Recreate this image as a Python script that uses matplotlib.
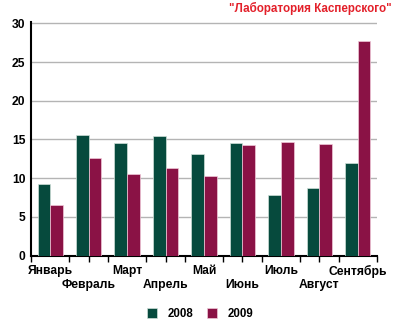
import matplotlib
matplotlib.use("Agg")
import matplotlib.pyplot as plt
import numpy as np

months = ["Январь", "Февраль", "Март", "Апрель", "Май", "Июнь", "Июль", "Август", "Сентябрь"]
v2008 = [9.3, 15.6, 14.6, 15.5, 13.1, 14.5, 7.8, 8.7, 11.9]
v2009 = [6.5, 12.6, 10.5, 11.3, 10.3, 14.3, 14.7, 14.4, 27.7]
yticks = [0, 5, 10, 15, 20, 25, 30]
title = '"Лаборатория Касперского"'

plt.rcParams['font.family'] = ['Liberation Sans', 'DejaVu Sans']

fig = plt.figure(figsize=(4.0, 3.3), dpi=100)
ax = fig.add_axes([31/400, 1-255.5/330, (377-31)/400, (255.5-22.3)/330])

x = np.arange(len(months))
w = 0.33
green = '#064a3d'
red = '#8a1245'
ax.bar(x - w, v2008, w, align='edge', color=green, edgecolor='#cfe0d8', linewidth=0.5, label='2008', zorder=3)
ax.bar(x, v2009, w, align='edge', color=red, edgecolor='#f0c8d8', linewidth=0.5, label='2009', zorder=3)

ax.set_xlim(-0.5, len(months) - 0.5)
ax.set_ylim(0, 30.15)
ax.set_yticks(yticks)
ax.set_yticklabels([str(t) for t in yticks], fontsize=8.7, fontweight='bold')
ax.tick_params(axis='y', length=0, pad=4)
ax.yaxis.grid(True, color='#b4b4b4', linewidth=1, zorder=0)
ax.set_axisbelow(True)

# first row of labels (Январь, Март, ...) on the main axis
ax.set_xticks(x[::2])
ax.set_xticklabels(months[::2], fontsize=8.7, fontweight='bold')
ax.set_xticks(np.arange(-0.5, len(months), 0.5), minor=True)
ax.tick_params(axis='x', which='minor', direction='out', length=4, width=1, color='black')
ax.tick_params(axis='x', which='major', length=0, pad=7)

# second row of labels (Февраль, Апрель, ...)
sec = ax.secondary_xaxis('bottom')
sec.set_xticks(x[1::2])
sec.set_xticklabels(months[1::2], fontsize=8.7, fontweight='bold')
sec.tick_params(axis='x', length=0, pad=17)
sec.spines['bottom'].set_visible(False)

for s in ['top', 'right']:
    ax.spines[s].set_visible(False)
ax.spines['left'].set_linewidth(1.5)
ax.spines['bottom'].set_linewidth(1.5)

fig.text(392/400, 1-8/330, title, color='#e3202a', fontsize=8.4, fontweight='bold', ha='right', va='center')

leg = fig.legend(loc='center', bbox_to_anchor=(0.5, 1-314/330), ncol=2, frameon=False,
                 handlelength=0.9, handleheight=0.9, handletextpad=0.9, columnspacing=1.2,
                 prop={'size': 8.3, 'weight': 'bold'})

fig.savefig('out.png', dpi=100)
